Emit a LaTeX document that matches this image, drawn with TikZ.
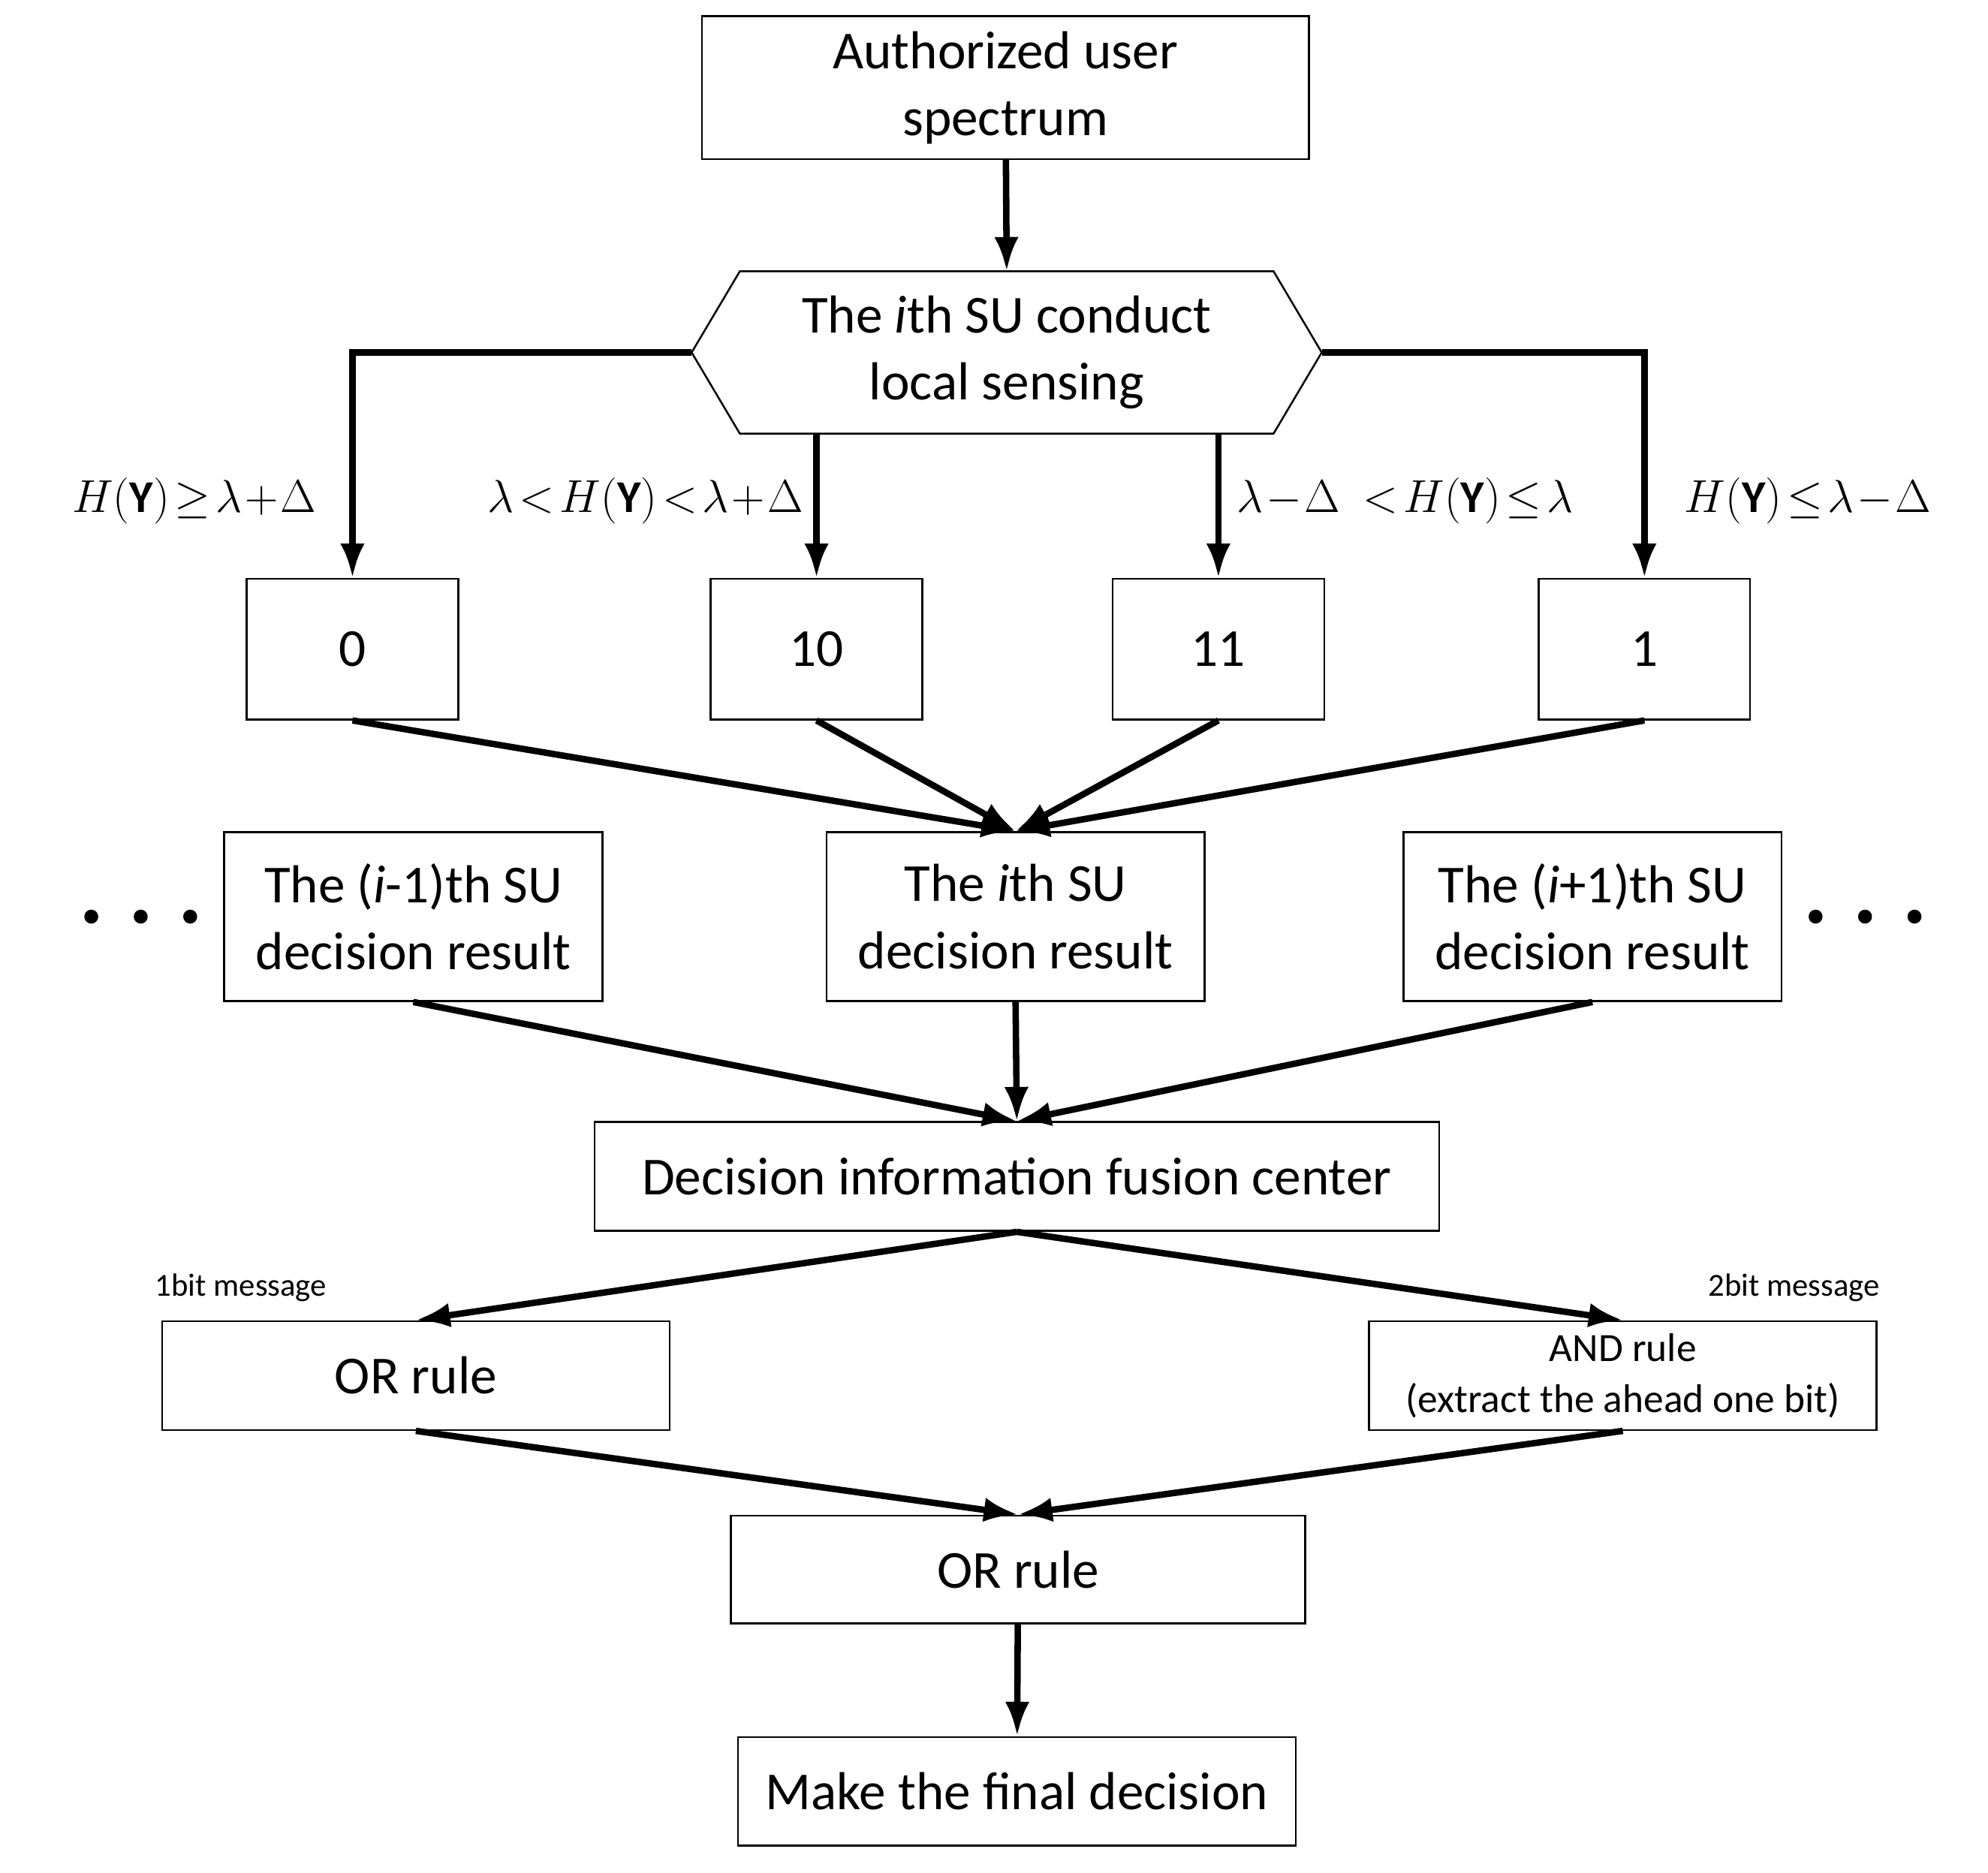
\documentclass[tikz,border=0pt]{standalone}
\usepackage{fontspec}
\setmainfont{Carlito}
\usepackage{amsmath}
\usetikzlibrary{arrows.meta,positioning,calc}

\tikzset{
    box/.style={draw, line width=0.7pt, align=center, inner sep=2pt},
    flow/.style={line width=2.4pt, -{Latex[length=0.45cm,width=0.32cm]}},
    cond/.style={font=\fontsize{17}{20}\selectfont, inner sep=1pt}
}

\begin{document}
\begin{tikzpicture}[x=0.0166667cm, y=-0.0166667cm, font=\fontsize{20}{25}\selectfont]
    \useasboundingbox (0,0) rectangle (1568,1477);

    % Spectrum and local sensing
    \node[box, minimum width=7.98cm, minimum height=1.88cm] (spec) at (793,69) {Authorized user\\spectrum};
    \node[align=center, minimum width=7cm, minimum height=2.12cm, inner sep=0pt] (hex) at (794,278) {The \textit{i}th SU conduct\\local sensing};
    \coordinate (hw) at ($(hex.west)+(-38,0)$);
    \coordinate (he) at ($(hex.east)+(38,0)$);
    \draw[line width=0.7pt] (hw) -- (hex.north west) -- (hex.north east) -- (he) -- (hex.south east) -- (hex.south west) -- cycle;
    \draw[flow] (spec) -- (hex.north);

    % Local decision codes
    \foreach \name/\x/\code in {b0/278/0, b10/644/10, b11/961/11, b1/1297/1} {
        \node[box, minimum width=2.78cm, minimum height=1.85cm] (\name) at (\x,512) {\code};
    }
    \draw[flow] (hw) -| (b0.north);
    \draw[flow] (he) -| (b1.north);
    \draw[flow] (hex.south -| b10.north) -- (b10.north);
    \draw[flow] (hex.south -| b11.north) -- (b11.north);

    % Thresholds
    \node[cond, anchor=east] (c0) at (252,395) {$H(\mathbf{Y})\!\geq\!\lambda\!+\!\Delta$};
    \node[cond, anchor=east] (c10) at (636,395) {$\lambda\!<\!H(\mathbf{Y})\!<\!\lambda\!+\!\Delta$};
    \node[cond, anchor=west] (c11) at (973,395) {$\lambda\!-\!\Delta\ <\!H(\mathbf{Y})\!\leq\!\lambda$};
    \node[cond, anchor=west] (c1) at (1326,395) {$H(\mathbf{Y})\!\leq\!\lambda\!-\!\Delta$};

    % Decision results of the SUs
    \node[box, minimum width=4.97cm, minimum height=2.22cm] (suprev) at (326,723) {The (\textit{i}-1)th SU\\decision result};
    \node[box, minimum width=4.97cm, minimum height=2.22cm] (su) at (801,723) {The \textit{i}th SU\\decision result};
    \node[box, minimum width=4.97cm, minimum height=2.22cm] (sunext) at (1256,723) {The (\textit{i}+1)th SU\\decision result};
    \foreach \x in {72,111,150,1432,1471,1510} {
        \fill (\x,723) circle (5.5);
    }
    \foreach \name in {b0,b10,b11,b1} {
        \draw[flow] (\name.south) -- (su.north);
    }

    % Fusion
    \node[box, minimum width=11.1cm, minimum height=1.43cm] (fus) at (802,928) {Decision information fusion center};
    \draw[flow] (suprev.south) -- (fus.north);
    \draw[flow] (su.south) -- (fus.north);
    \draw[flow] (sunext.south) -- (fus.north);

    \node[box, minimum width=6.67cm, minimum height=1.43cm] (orl) at (328,1085) {OR rule};
    \node[box, minimum width=6.67cm, minimum height=1.43cm, font=\fontsize{15}{19}\selectfont] (andr) at (1280,1085) {AND rule\\(extract the ahead one bit)};
    \node[font=\fontsize{12}{14}\selectfont] (m1) at (190,1016) {1bit message};
    \node[font=\fontsize{12}{14}\selectfont] (m2) at (1415,1016) {2bit message};
    \draw[flow] (fus.south) -- (orl.north);
    \draw[flow] (fus.south) -- (andr.north);

    % Final decision
    \node[box, minimum width=7.55cm, minimum height=1.42cm] (orf) at (803,1238) {OR rule};
    \draw[flow] (orl.south) -- (orf.north);
    \draw[flow] (andr.south) -- (orf.north);
    \node[box, minimum width=7.33cm, minimum height=1.43cm] (fin) at (802,1413) {Make the final decision};
    \draw[flow] (orf) -- (fin);
\end{tikzpicture}
\end{document}
